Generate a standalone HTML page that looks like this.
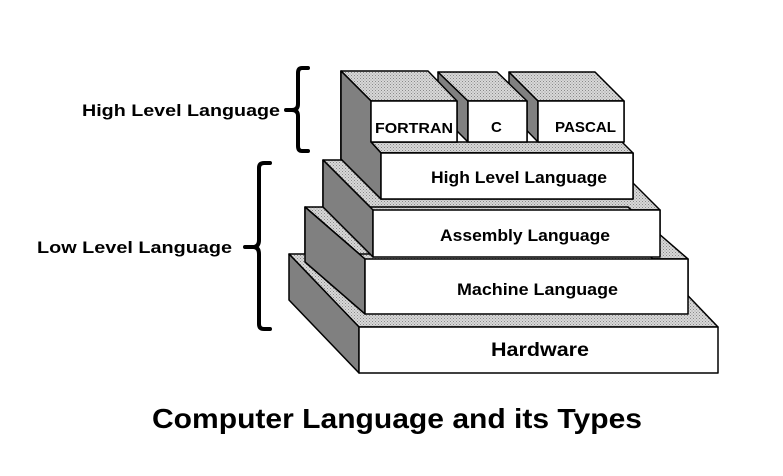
<!DOCTYPE html>
<html><head><style>body{margin:0;background:#fff}svg{display:block}</style></head><body>
<svg width="783" height="476" viewBox="0 0 783 476" xmlns="http://www.w3.org/2000/svg" font-family="Liberation Sans, sans-serif" font-weight="bold">
<defs>
<pattern id="d" width="3" height="3" patternUnits="userSpaceOnUse"><rect width="3" height="3" fill="#d8d8d8"/><rect width="1" height="1" fill="#8a8a8a"/><rect x="1.5" y="1.5" width="1" height="1" fill="#9a9a9a"/></pattern>
</defs>
<g stroke="#000" stroke-width="1.5" stroke-linejoin="round">
<!-- PASCAL -->
<polygon points="509,72 538,101 538,142 509,112" fill="#808080"/>
<polygon points="509,72 595,72 624,101 538,101" fill="url(#d)"/>
<rect x="538" y="101" width="86" height="41" fill="#fff"/>
<!-- C -->
<polygon points="438,72 468,101 468,142 438,112" fill="#808080"/>
<polygon points="438,72 497,72 527,101 468,101" fill="url(#d)"/>
<rect x="468" y="101" width="59" height="41" fill="#fff"/>
<!-- big block left face + FORTRAN -->
<polygon points="341,71 371,101 371,142 381,153 381,199 341,159" fill="#808080"/>
<polygon points="341,71 428,71 457,101 371,101" fill="url(#d)"/>
<polygon points="371,142 622,142 633,153 381,153" fill="url(#d)"/>
<rect x="371" y="101" width="86" height="41" fill="#fff"/>
<rect x="381" y="153" width="252" height="46" fill="#fff"/>
<!-- Assembly -->
<polygon points="323,160 610,160 660,210 373,210" fill="url(#d)"/>
<polygon points="323,160 373,210 373,257 323,207" fill="#808080"/>
<rect x="373" y="210" width="287" height="47" fill="#fff"/>
<!-- redraw high layer over assembly top -->
<polygon points="341,71 371,101 371,142 381,153 381,199 341,159" fill="#808080"/>
<rect x="381" y="153" width="252" height="46" fill="#fff"/>
<!-- Machine -->
<polygon points="305,207 628,207 688,259 365,259" fill="url(#d)"/>
<polygon points="305,207 365,259 365,314 305,262" fill="#808080"/>
<rect x="365" y="259" width="323" height="55" fill="#fff"/>
<!-- Hardware -->
<polygon points="289,254 648,254 718,327 359,327" fill="url(#d)"/>
<polygon points="289,254 359,327 359,373 289,300" fill="#808080"/>
<rect x="359" y="327" width="359" height="46" fill="#fff"/>
</g>
<!-- redraw stacked layers on top of lower top faces (correct occlusion) -->
<g stroke="#000" stroke-width="1.5" stroke-linejoin="round">
<polygon points="305,207 365,259 365,314 305,262" fill="#808080"/>
<rect x="365" y="259" width="323" height="55" fill="#fff"/>
<polygon points="323,160 373,210 373,257 323,207" fill="#808080"/>
<rect x="373" y="210" width="287" height="47" fill="#fff"/>
<polygon points="341,71 371,101 371,142 381,153 381,199 341,159" fill="#808080"/>
<rect x="381" y="153" width="252" height="46" fill="#fff"/>
<rect x="371" y="101" width="86" height="41" fill="#fff"/>
<rect x="468" y="101" width="59" height="41" fill="#fff"/>
<rect x="538" y="101" width="86" height="41" fill="#fff"/>
</g>
<g font-size="15" fill="#000">
<text x="375" y="133" textLength="78" lengthAdjust="spacingAndGlyphs">FORTRAN</text>
<text x="491" y="132">C</text>
<text x="555" y="132" textLength="61" lengthAdjust="spacingAndGlyphs">PASCAL</text>
</g>
<g font-size="17" fill="#000">
<text x="431" y="183" textLength="176" lengthAdjust="spacingAndGlyphs">High Level Language</text>
<text x="440" y="241" textLength="170" lengthAdjust="spacingAndGlyphs">Assembly Language</text>
<text x="457" y="295" textLength="161" lengthAdjust="spacingAndGlyphs">Machine Language</text>
<text x="491" y="356" font-size="19" textLength="98" lengthAdjust="spacingAndGlyphs">Hardware</text>
<text x="82" y="116" textLength="198" lengthAdjust="spacingAndGlyphs">High Level Language</text>
<text x="37" y="253" textLength="195" lengthAdjust="spacingAndGlyphs">Low Level Language</text>
</g>
<text x="152" y="428" font-size="28" textLength="490" lengthAdjust="spacingAndGlyphs">Computer Language and its Types</text>
<g fill="none" stroke="#000" stroke-width="4" stroke-linecap="round">
<path d="M308,68 H302 Q298,68 298,73 V104 Q298,110 292,110 H286 M292,110 Q298,110 298,116 V146 Q298,151 302,151 H308"/>
<path d="M270,163 H264 Q259,163 259,168 V240 Q259,247 253,247 H245 M253,247 Q259,247 259,254 V324 Q259,329 264,329 H270"/>
</g>
</svg>
</body></html>
